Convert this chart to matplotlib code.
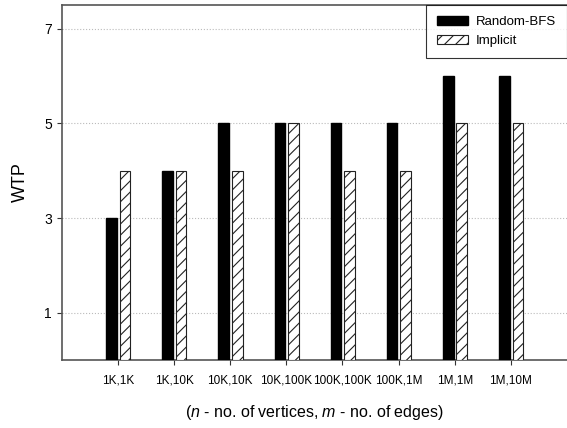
import numpy as np
import matplotlib
matplotlib.use('Agg')
import matplotlib.pyplot as plt

plt.rcParams['font.family'] = ['Liberation Sans', 'DejaVu Sans']
plt.rcParams['mathtext.fontset'] = 'custom'
plt.rcParams['mathtext.rm'] = 'Liberation Sans'
plt.rcParams['mathtext.it'] = 'Liberation Sans:italic'
plt.rcParams['hatch.linewidth'] = 0.8

categories = ['1K,1K', '1K,10K', '10K,10K', '10K,100K', '100K,100K', '100K,1M', '1M,1M', '1M,10M']
random_bfs = [3, 4, 5, 5, 5, 5, 6, 6]
implicit = [4, 4, 4, 5, 4, 4, 5, 5]

x = np.arange(1, len(categories) + 1)
w = 0.19

fig = plt.figure(figsize=(5.67, 4.28), dpi=100)
ax = fig.add_axes([0.109, 0.159, 0.891, 0.829])

ax.bar(x - 0.115, random_bfs, w, color='black', edgecolor='black', label='Random-BFS', zorder=3)
ax.bar(x + 0.125, implicit, w, color='white', edgecolor='#222222', hatch='///', linewidth=0.8,
       label='Implicit', zorder=3)

ax.set_xlim(0, 9)
ax.set_ylim(0, 7.5)
ax.set_yticks([1, 3, 5, 7])
ax.set_xticks(x)
ax.set_xticklabels(categories, fontsize=8.5)
ax.tick_params(axis='y', labelsize=10, colors='#333333', labelcolor='black')
ax.tick_params(axis='x', colors='#333333', labelcolor='black', pad=7)
ax.yaxis.grid(True, linestyle=':', color='#bbbbbb', linewidth=0.8, zorder=0)

for s in ['left', 'bottom', 'top']:
    ax.spines[s].set_color('#555555')
    ax.spines[s].set_linewidth(1.2)
ax.spines['right'].set_visible(False)

ax.set_ylabel('WTP', fontsize=13, labelpad=11)
ax.set_xlabel(r'$\mathit{(n}$ - no. of vertices, $\mathit{m}$ - no. of edges$\mathit{)}$',
              fontsize=11.5, labelpad=12)

leg = ax.legend(loc='upper right', fontsize=9.5, frameon=True, fancybox=False,
                edgecolor='black', borderaxespad=0, borderpad=0.8,
                handlelength=2.4, handleheight=0.75, handletextpad=0.6)
leg.get_frame().set_linewidth(0.8)

fig.savefig('out.png', dpi=100)
